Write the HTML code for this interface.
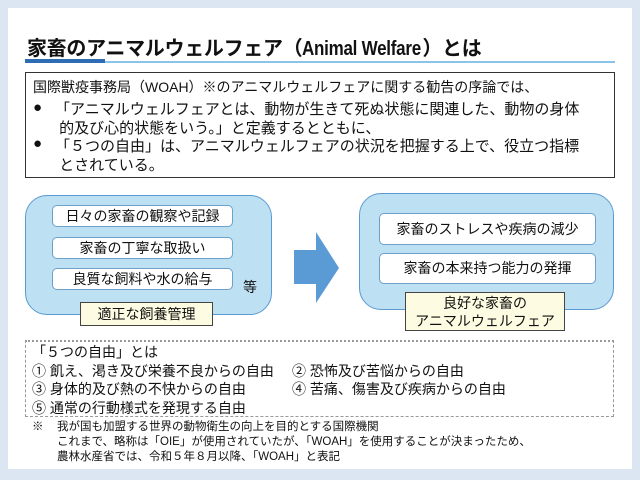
<!DOCTYPE html>
<html><head><meta charset="utf-8"><style>
*{margin:0;padding:0;box-sizing:border-box}
body{width:640px;height:480px;background:#dce6f2;position:relative;font-family:"Liberation Sans","Noto Sans CJK JP",sans-serif;color:#111;overflow:hidden}
.a{position:absolute;white-space:nowrap}
.panel{left:8px;top:8px;width:624px;height:461px;background:#fff}
.ib{position:absolute;background:#fff;border:1px solid #6fa0cc;border-radius:5px;text-align:center;font-size:14px}
.big{position:absolute;background:#bde0f3;border:1.5px solid #5a9ad2;border-radius:22px}
.lab{position:absolute;background:#fdfbe1;border:1px solid #444;text-align:center;font-size:14px}
</style></head><body>
<div class="a panel"></div>
<div class="a" style="left:27px;top:32px;font-size:20px;font-weight:bold;letter-spacing:-0.3px">家畜のアニマルウェルフェア（<span style="display:inline-block;transform:scaleX(0.85);transform-origin:left;margin-right:-20px">Animal Welfare</span>）とは</div>
<div class="a" style="left:25px;top:61px;width:590px;height:2px;background:#8cc3e8"></div>
<div class="a" style="left:25px;top:59px;width:80px;height:4px;background:#2e6db4"></div>
<div class="a" style="left:25px;top:72px;width:590px;height:106px;border:1px solid #333"></div>
<div class="a" style="left:33px;top:78px;font-size:14px;line-height:18px">国際獣疫事務局（WOAH）※のアニマルウェルフェアに関する勧告の序論では、</div>
<div class="a" style="left:33px;top:99px;font-size:15px;line-height:18px">●<br><br>●</div>
<div class="a" style="left:55px;top:101px;font-size:15px;line-height:18.5px">「アニマルウェルフェアとは、動物が生きて死ぬ状態に関連した、動物の身体<br>&nbsp;的及び心的状態をいう。」と定義するとともに、<br>「５つの自由」は、アニマルウェルフェアの状況を把握する上で、役立つ指標<br>&nbsp;とされている。</div>
<div class="big" style="left:25px;top:195px;width:247px;height:120px"></div>
<div class="ib" style="left:52px;top:205px;width:181px;height:22px;line-height:20px">日々の家畜の観察や記録</div>
<div class="ib" style="left:52px;top:237px;width:181px;height:22px;line-height:20px">家畜の丁寧な取扱い</div>
<div class="ib" style="left:52px;top:268px;width:181px;height:22px;line-height:20px">良質な飼料や水の給与</div>
<div class="a" style="left:243px;top:277px;font-size:14px">等</div>
<div class="lab" style="left:80px;top:302px;width:133px;height:24px;line-height:22px">適正な飼養管理</div>
<svg class="a" style="left:294px;top:232px" width="46" height="72"><polygon points="0,18 22,18 22,0 45,36 22,71 22,52 0,52" fill="#5b9bd5"/></svg>
<div class="big" style="left:359px;top:193px;width:255px;height:117px"></div>
<div class="ib" style="left:379px;top:213px;width:217px;height:32px;line-height:30px">家畜のストレスや疾病の減少</div>
<div class="ib" style="left:379px;top:253px;width:217px;height:31px;line-height:29px">家畜の本来持つ能力の発揮</div>
<div class="lab" style="left:405px;top:292px;width:160px;height:39px;line-height:18px;padding-top:1px">良好な家畜の<br>アニマルウェルフェア</div>
<div class="a" style="left:25px;top:340px;width:589px;height:77px;border:1px dashed #999;border-top:2px dotted #999"></div>
<div class="a" style="left:32px;top:343px;font-size:14px;line-height:18.5px">「５つの自由」とは<br>① 飢え、渇き及び栄養不良からの自由<br>③ 身体的及び熱の不快からの自由<br>⑤ 通常の行動様式を発現する自由</div>
<div class="a" style="left:292px;top:361.5px;font-size:14px;line-height:18.5px">② 恐怖及び苦悩からの自由<br>④ 苦痛、傷害及び疾病からの自由</div>
<div class="a" style="left:32px;top:420px;font-size:11.5px;line-height:15px">※</div>
<div class="a" style="left:57px;top:420px;font-size:11.5px;line-height:15px">我が国も加盟する世界の動物衛生の向上を目的とする国際機関<br>これまで、略称は「OIE」が使用されていたが、「WOAH」を使用することが決まったため、<br>農林水産省では、令和５年８月以降、「WOAH」と表記</div>
</body></html>
